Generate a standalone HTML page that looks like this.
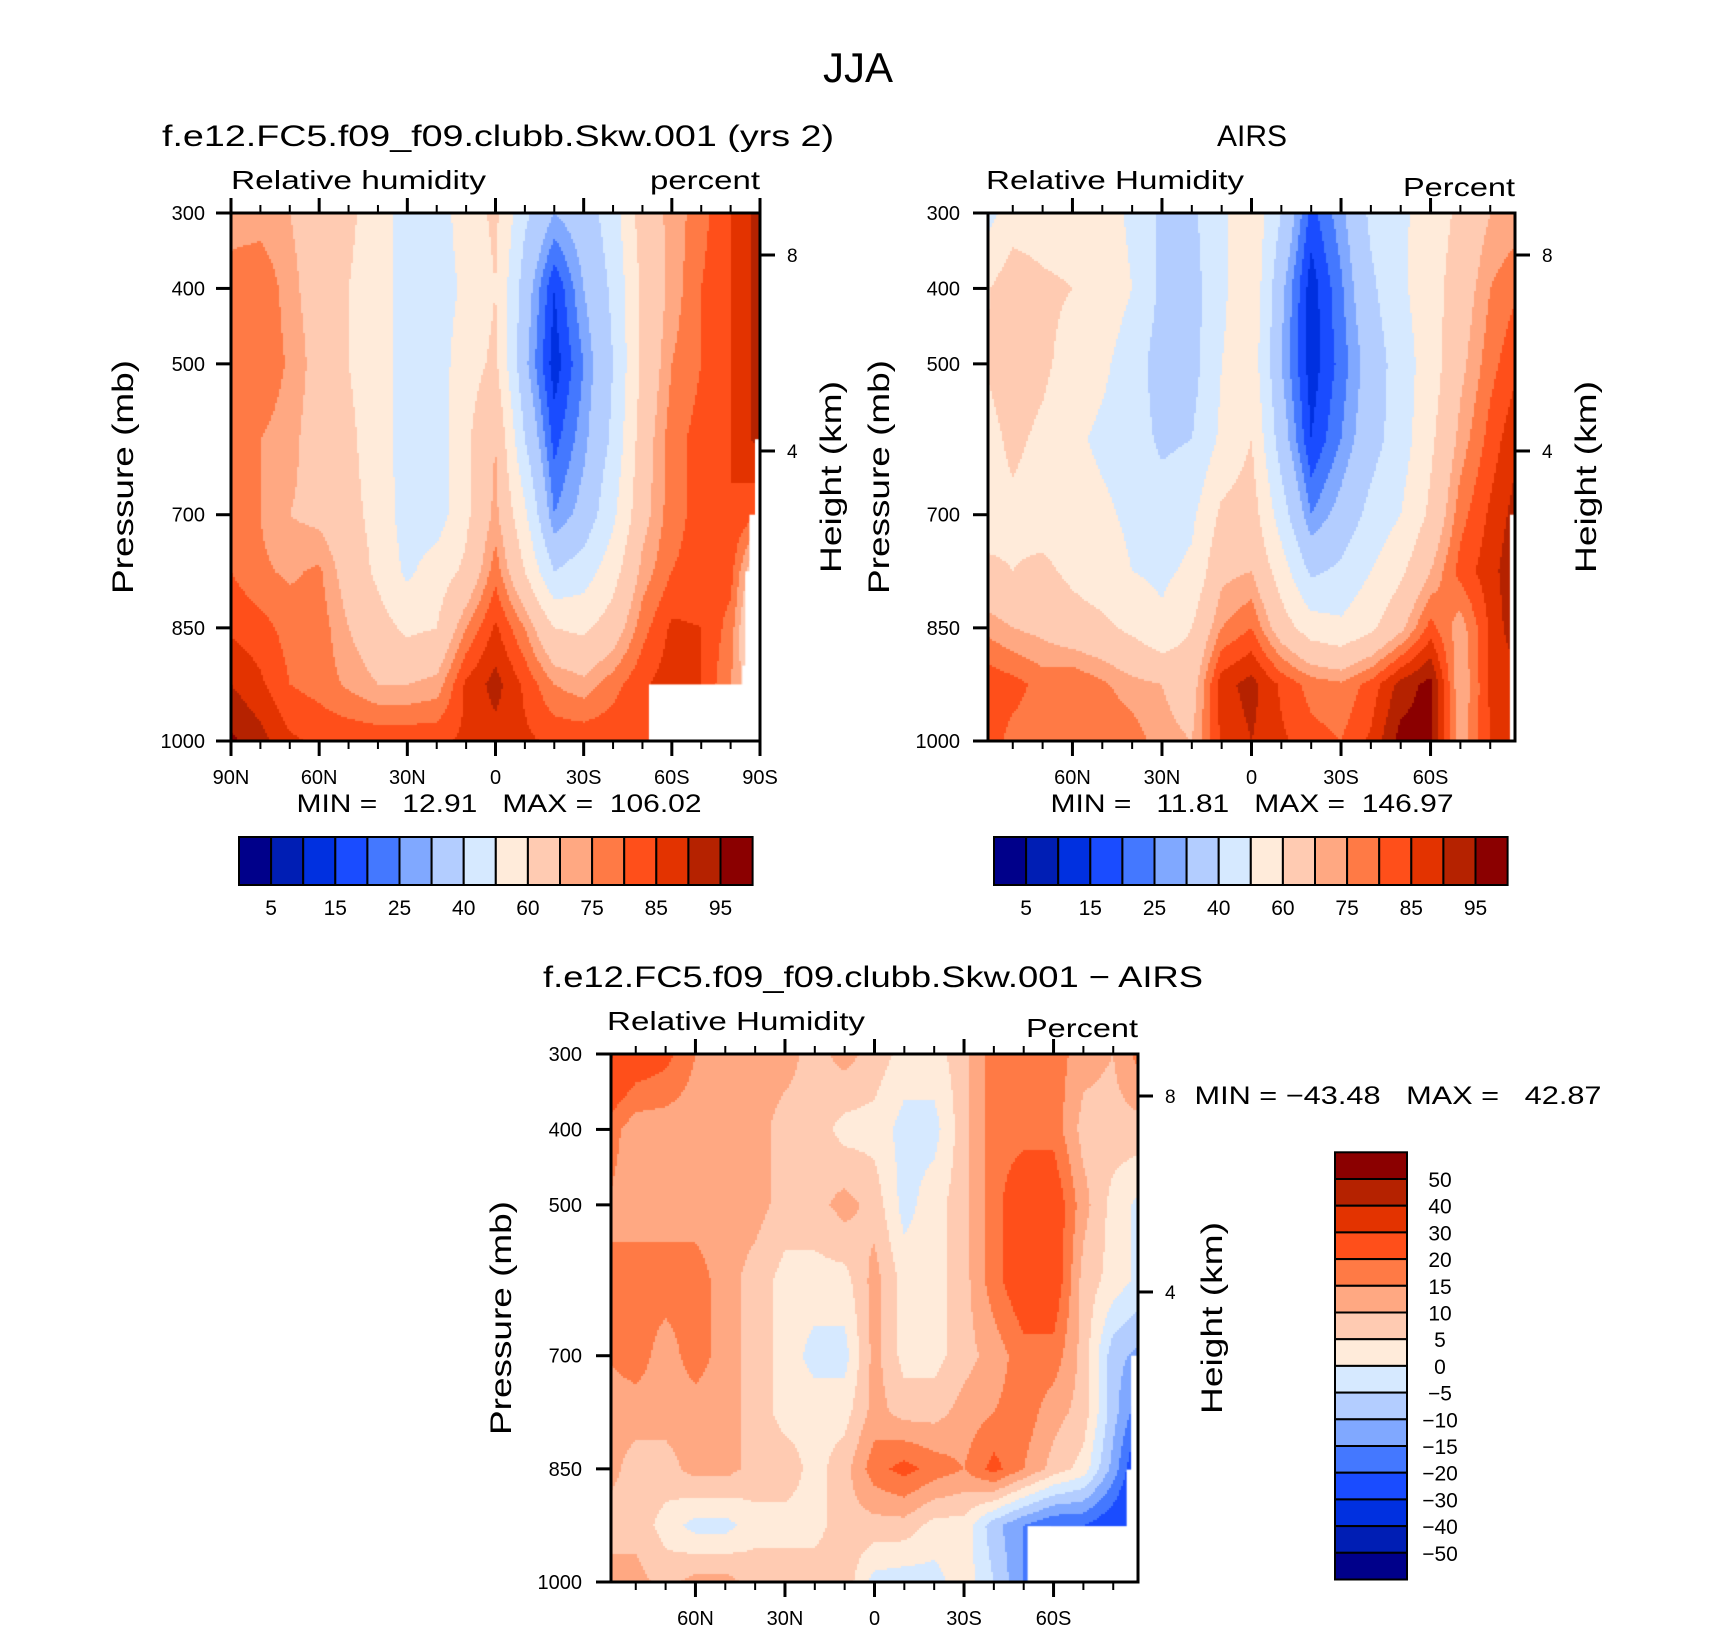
<!DOCTYPE html>
<html><head><meta charset="utf-8">
<style>
html,body{margin:0;padding:0;background:#fff;}
#root{position:relative;width:1710px;height:1631px;overflow:hidden;font-family:"Liberation Sans",sans-serif;}
canvas{position:absolute;}
svg{position:absolute;left:0;top:0;}
</style></head>
<body>
<div id="root">
<canvas id="c1"></canvas>
<canvas id="c2"></canvas>
<canvas id="c3"></canvas>
<svg id="ov" width="1710" height="1631"></svg>
</div>
<script>
const LATS = [90,80,70,60,50,40,30,20,10,0,-10,-20,-30,-40,-50,-60,-70,-80,-90];
const PRESS = [300,400,500,600,700,775,850,925,1000];
const rhModel = [
[72,72,70,66,62,55,45,45,55,62,42,30,35,45,65,72,78,85,92],
[78,80,72,66,60,55,45,45,52,60,35,15,30,42,62,72,80,85,92],
[78,80,74,67,60,55,45,45,56,62,32,12,25,40,62,75,80,85,92],
[78,75,72,66,62,55,45,45,58,70,40,18,28,42,65,78,82,85,92],
[78,75,70,68,63,57,45,45,58,72,52,25,33,48,67,78,82,85,80],
[80,76,74,76,66,58,48,55,62,78,60,40,45,56,72,80,82,82,60],
[84,82,78,78,70,64,58,60,75,86,75,60,58,65,78,86,85,78,52],
[90,86,80,78,74,70,70,72,86,92,84,75,72,78,84,88,85,75,60],
[96,92,86,84,84,84,84,84,86,88,86,84,84,84,84,86,80,70,60]];
const rhAirs = [
[45,55,55,55,55,48,38,38,48,58,40,18,28,42,48,55,62,70,72],
[58,66,62,60,56,50,38,36,48,58,32,12,24,38,48,56,65,75,80],
[60,65,62,56,52,45,35,36,50,56,30,12,22,34,45,55,68,78,85],
[56,62,58,52,48,45,38,40,52,60,35,15,25,36,45,58,72,82,90],
[56,58,56,55,52,48,45,48,62,65,45,25,33,43,50,62,78,86,93],
[62,60,62,58,55,50,48,52,68,70,55,38,42,50,58,70,82,88,95],
[74,70,68,64,62,58,52,60,75,80,65,55,52,58,68,82,72,86,95],
[84,82,78,80,76,72,70,66,88,92,84,78,76,82,92,97,70,86,88],
[84,78,78,76,80,78,72,70,86,90,86,82,80,86,97,97,72,85,88]];
const rhDiff = [
[32,25,22,15,12,12,12,8,12,8,3,3,8,18,18,18,12,10,18],
[18,12,12,12,12,12,8,8,3,3,-2,-2,8,18,18,18,8,8,8],
[15,12,12,12,12,12,8,8,12,8,-2,3,8,18,25,25,12,3,-2],
[15,18,18,18,12,8,3,3,3,12,3,3,8,18,25,25,8,3,-2],
[15,18,12,18,12,8,3,-2,-2,12,3,3,8,12,18,18,8,-8,-12],
[12,12,12,12,12,8,3,3,3,12,8,8,12,15,18,12,8,-8,-20],
[12,8,8,12,12,8,8,3,8,18,22,18,15,22,15,8,3,-12,-30],
[8,8,3,-2,-2,3,3,3,8,8,8,3,3,-8,-15,-20,-20,-25,-30],
[12,12,8,12,12,8,8,8,8,-2,-3,-2,3,-5,-15,-30,-30,-30,-30]];
const rhLevels = [5,10,15,20,25,30,40,50,60,70,75,80,85,90,95];
const rhTickLabels = ["5","15","25","40","60","75","85","95"];
const diffLevels = [-50,-40,-30,-20,-15,-10,-5,0,5,10,15,20,30,40,50];
const diffTickLabels = ["-50","-40","-30","-20","-15","-10","-5","0","5","10","15","20","30","40","50"];
const COLORS = ["#00008a","#001eb4","#0030e0","#1a4cff","#4478ff","#80a8ff","#b3cdff","#d6e9ff","#ffebda","#ffcbb2","#ffa882","#ff7a45","#ff4f1a","#e33300","#b52200","#8b0000"];
// missing-data regions: [latFrom, latTo, pFrom, pTo]
const mask1 = [[-52.2,-90,925,1000],[-84,-90,900,1000],[-85,-90,775,1000],[-86.4,-90,700,1000],[-88.3,-90,600,1000]];
const mask2 = [[-86.6,-90,700,1000],[-87.4,-90,850,1000]];
const mask3 = [[-51.3,-90,926,1000],[-84.5,-90,851,1000],[-86,-90,700,1000],[-88,-90,600,1000]];

const P1 = {x0:231,x1:760,y0:213,y1:741,latL:90,latR:-90};
const P2 = {x0:988,x1:1515,y0:213,y1:741,latL:88.3,latR:-88.3};
const P3 = {x0:611,x1:1138,y0:1054,y1:1582,latL:88.3,latR:-88.3};

function xOf(P,lat){return P.x0+(P.latL-lat)/(P.latL-P.latR)*(P.x1-P.x0);}
function yOf(P,p){return P.y0+(p-300)/700*(P.y1-P.y0);}
function sample(data,lat,p){
  let li=(90-lat)/10; li=Math.max(0,Math.min(17.9999,li));
  let i=Math.floor(li), fx=li-i;
  let pi=0; while(pi<PRESS.length-2 && p>PRESS[pi+1]) pi++;
  let fy=(p-PRESS[pi])/(PRESS[pi+1]-PRESS[pi]); fy=Math.max(0,Math.min(1,fy));
  const a=data[pi][i],b=data[pi][i+1],c=data[pi+1][i],d=data[pi+1][i+1];
  return (a*(1-fx)+b*fx)*(1-fy)+(c*(1-fx)+d*fx)*fy;
}
function levelIdx(v,levels){let k=0;while(k<levels.length&&v>=levels[k])k++;return k;}
function drawField(id,P,data,levels,mask){
  const cv=document.getElementById(id);
  const w=P.x1-P.x0,h=P.y1-P.y0;
  cv.width=w;cv.height=h;cv.style.left=P.x0+'px';cv.style.top=P.y0+'px';
  const ctx=cv.getContext('2d');
  const s=2;
  for(let y=0;y<h;y+=s){
    const p=300+(y+s/2)/h*700;
    for(let x=0;x<w;x+=s){
      const lat=P.latL-(x+s/2)/w*(P.latL-P.latR);
      ctx.fillStyle=COLORS[levelIdx(sample(data,lat,p),levels)];
      ctx.fillRect(x,y,s,s);
    }
  }
  ctx.fillStyle='#fff';
  mask.forEach(m=>{
    const xa=xOf(P,m[0])-P.x0, xb=xOf(P,m[1])-P.x0;
    const ya=yOf(P,m[2])-P.y0, yb=yOf(P,m[3])-P.y0;
    ctx.fillRect(Math.min(xa,xb),ya,Math.abs(xb-xa)+2,yb-ya+2);
  });
}
drawField('c1',P1,rhModel,rhLevels,mask1);
drawField('c2',P2,rhAirs,rhLevels,mask2);
drawField('c3',P3,rhDiff,diffLevels,mask3);

const NS='http://www.w3.org/2000/svg';
const ov=document.getElementById('ov');
function el(tag,attrs,parent){const e=document.createElementNS(NS,tag);for(const k in attrs)e.setAttribute(k,attrs[k]);(parent||ov).appendChild(e);return e;}
function txt(str,x,y,size,anchor,extra){
  const t=el('text',Object.assign({x:x,y:y,'font-size':size,'text-anchor':anchor||'start','font-family':'Liberation Sans, sans-serif',fill:'#000'},extra||{}));
  t.textContent=str;return t;
}

const yTicks=[300,400,500,700,850,1000];
const xMajor=[90,60,30,0,-30,-60,-90];
const xMajorLabels=["90N","60N","30N","0","30S","60S","90S"];
const heightTicks=[[8,355.7],[4,615.5]];

function axes(P,name,showEnds,labRight,hLabX,pLabX){
  const g=el('g',{});
  
  
  el('rect',{x:P.x0,y:P.y0,width:P.x1-P.x0,height:P.y1-P.y0,fill:'none',stroke:'#000','stroke-width':3},g);
  for(let lat=-90;lat<=90;lat+=10){
    if(lat>P.latL||lat<P.latR) continue;
    const x=xOf(P,lat);const maj=lat%30===0;const L=maj?15:8;
    el('line',{x1:x,y1:P.y0,x2:x,y2:P.y0-L,stroke:'#000','stroke-width':maj?3:2},g);
    el('line',{x1:x,y1:P.y1,x2:x,y2:P.y1+L,stroke:'#000','stroke-width':maj?3:2},g);
  }
  xMajor.forEach((lat,i)=>{
    if(!showEnds && Math.abs(lat)===90) return;
    const t=txt(xMajorLabels[i],xOf(P,lat),P.y1+43,20,'middle');
    
  });
  yTicks.forEach(p=>{
    const y=yOf(P,p);
    el('line',{x1:P.x0-15,y1:y,x2:P.x0,y2:y,stroke:'#000','stroke-width':3},g);
    const t=txt(String(p),labRight,y+7,20,'end');
    
  });
  heightTicks.forEach(h=>{
    const y=yOf(P,h[1]);
    el('line',{x1:P.x1,y1:y,x2:P.x1+15,y2:y,stroke:'#000','stroke-width':3},g);
    const t=txt(String(h[0]),P.x1+27,y+7,19,'start');
    
  });
  const cy=(P.y0+P.y1)/2;
  const pl=txt('Pressure (mb)',0,0,30,'middle',{transform:`translate(${pLabX+11},${cy}) rotate(-90)`,textLength:234,lengthAdjust:'spacingAndGlyphs'});
  
  const hl=txt('Height (km)',0,0,30,'middle',{transform:`translate(${hLabX+11},${cy}) rotate(-90)`,textLength:192,lengthAdjust:'spacingAndGlyphs'});
  
}
axes(P1,'model',true,205,830,122);
axes(P2,'airs',false,960,1585,878);
axes(P3,'diff',false,582,1211,500);

function T(str,x,y,size,anchor,len,name){
  const extra=len?{textLength:len,lengthAdjust:'spacingAndGlyphs'}:{};
  const t=txt(str,x,y,size,anchor,extra);
  return t;
}
T('JJA',858,82,42,'middle',null,'figure-title');
T('f.e12.FC5.f09_f09.clubb.Skw.001 (yrs 2)',498,146,30,'middle',672,'model-title');
T('AIRS',1252,146,30,'middle',null,'airs-title');
T('f.e12.FC5.f09_f09.clubb.Skw.001 − AIRS',873,987,30,'middle',660,'diff-title');
T('Relative humidity',231,189,26,'start',255,'model-variable-label');
T('percent',760,189,26,'end',110,'model-units-label');
T('Relative Humidity',986,189,26,'start',258,'airs-variable-label');
T('Percent',1515,196,26,'end',112,'airs-units-label');
T('Relative Humidity',607,1030,26,'start',258,'diff-variable-label');
T('Percent',1138,1037,26,'end',112,'diff-units-label');
T('MIN =   12.91   MAX =  106.02',499,812,25,'middle',405,'model-min-max');
T('MIN =   11.81   MAX =  146.97',1252,812,25,'middle',403,'airs-min-max');
T('MIN = −43.48   MAX =   42.87',1398,1104,25,'middle',407,'diff-min-max');
document.querySelectorAll('text').forEach(t=>t.setAttribute('xml:space','preserve'));
document.querySelectorAll('text').forEach(t=>t.style.whiteSpace='pre');

function hbar(x0,name){
  const bw=32.1,y0=837,h=48;
  COLORS.forEach((c,i)=>{
    const r=el('rect',{x:x0+i*bw,y:y0,width:bw,height:h,fill:c,stroke:'#000','stroke-width':2});
    
    
  });
  rhTickLabels.forEach((lab,i)=>{
    const t=txt(lab,x0+(2*i+1)*bw,915,21,'middle');
    
    
  });
}
hbar(239,'model-colorbar');
hbar(994,'airs-colorbar');
(function(){
  const x0=1335,w=72,y0=1152.3,bh=26.7;
  for(let i=0;i<16;i++){
    const r=el('rect',{x:x0,y:y0+i*bh,width:w,height:bh,fill:COLORS[15-i],stroke:'#000','stroke-width':2});
    
    
  }
  for(let j=0;j<15;j++){
    const lab=diffTickLabels[14-j].replace('-','−');
    const t=txt(lab,1440,y0+(j+1)*bh+8,21,'middle');
    
    
  }
})();
</script>
</body></html>
